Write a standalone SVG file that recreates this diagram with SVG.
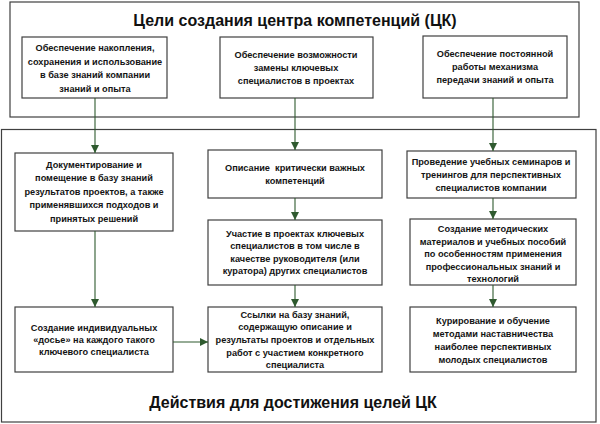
<svg xmlns="http://www.w3.org/2000/svg" width="600" height="424" viewBox="0 0 600 424">
<style>
.frame{fill:#fff;stroke:#404040;stroke-width:1.2}
.box{fill:#fff;stroke:#404040;stroke-width:1.2}
.t{font-family:"Liberation Sans",Arial,sans-serif;font-weight:bold;font-size:9.2px;fill:#141414;text-anchor:middle}
.title{font-family:"Liberation Sans",Arial,sans-serif;font-weight:bold;font-size:16px;fill:#111;text-anchor:middle}
.c{stroke:#2f5a2f;stroke-width:1.1;fill:none;marker-end:url(#ah)}
</style>
<defs>
<marker id="ah" markerUnits="userSpaceOnUse" markerWidth="8" markerHeight="8" viewBox="0 0 8 8" refX="8" refY="4" orient="auto">
<path d="M0,0 L8,4 L0,8 Z" fill="#2f5a2f"/>
</marker>
</defs>
<rect width="600" height="424" fill="#fff"/>
<g id="goals-frame">
<rect class="frame" x="10" y="2" width="569" height="115"/>
<text class="title" x="295" y="26">Цели создания центра компетенций (ЦК)</text>
</g>
<g id="actions-frame">
<rect class="frame" x="1.5" y="129.5" width="594.5" height="292.5"/>
<text class="title" x="293" y="408">Действия для достижения целей ЦК</text>
</g>
<g id="a1">
<rect class="box" x="22" y="37" width="145" height="61"/>
<text class="t" x="95" y="51">Обеспечение накопления,</text>
<text class="t" x="95" y="64.5">сохранения и использование</text>
<text class="t" x="95" y="78">в базе знаний компании</text>
<text class="t" x="95" y="91.5">знаний и опыта</text>
</g>
<g id="a2">
<rect class="box" x="220" y="37" width="153" height="61"/>
<text class="t" x="296" y="57.5">Обеспечение возможности</text>
<text class="t" x="296" y="70.5">замены ключевых</text>
<text class="t" x="296" y="83.5">специалистов в проектах</text>
</g>
<g id="a3">
<rect class="box" x="423" y="36" width="144" height="62"/>
<text class="t" x="495" y="57">Обеспечение постоянной</text>
<text class="t" x="495" y="70">работы механизма</text>
<text class="t" x="495" y="83">передачи знаний и опыта</text>
</g>
<g id="b1">
<rect class="box" x="15" y="153" width="158" height="78"/>
<text class="t" x="94" y="167.5">Документирование и</text>
<text class="t" x="94" y="181">помещение в базу знаний</text>
<text class="t" x="94" y="194.5">результатов проектов, а также</text>
<text class="t" x="94" y="208">применявшихся подходов и</text>
<text class="t" x="94" y="221.5">принятых решений</text>
</g>
<g id="b2">
<rect class="box" x="208" y="150" width="174" height="48"/>
<text class="t" x="295" y="171">Описание&#160; критически важных</text>
<text class="t" x="295" y="183.5">компетенций</text>
</g>
<g id="b3">
<rect class="box" x="208" y="220" width="174" height="65"/>
<text class="t" x="295" y="236.5">Участие в проектах ключевых</text>
<text class="t" x="295" y="249">специалистов в том числе в</text>
<text class="t" x="295" y="261.5">качестве руководителя (или</text>
<text class="t" x="295" y="274">куратора) других специалистов</text>
</g>
<g id="b4">
<rect class="box" x="15" y="307" width="158" height="65"/>
<text class="t" x="94" y="331">Создание индивидуальных</text>
<text class="t" x="94" y="343">«досье» на каждого такого</text>
<text class="t" x="94" y="355">ключевого специалиста</text>
</g>
<g id="b5">
<rect class="box" x="208" y="307" width="174" height="65"/>
<text class="t" x="295" y="317.5">Ссылки на базу знаний,</text>
<text class="t" x="295" y="330">содержащую описание и</text>
<text class="t" x="295" y="343">результаты проектов и отдельных</text>
<text class="t" x="295" y="355.5">работ с участием конкретного</text>
<text class="t" x="295" y="368">специалиста</text>
</g>
<g id="c1">
<rect class="box" x="407" y="151" width="169" height="47"/>
<text class="t" x="491" y="164.5">Проведение учебных семинаров и</text>
<text class="t" x="491" y="177.5">тренингов для перспективных</text>
<text class="t" x="491" y="190.5">специалистов компании</text>
</g>
<g id="c2">
<rect class="box" x="410" y="219" width="166" height="66"/>
<text class="t" x="493" y="232">Создание методических</text>
<text class="t" x="493" y="244.5">материалов и учебных пособий</text>
<text class="t" x="493" y="257">по особенностям применения</text>
<text class="t" x="493" y="269.5">профессиональных знаний и</text>
<text class="t" x="493" y="282">технологий</text>
</g>
<g id="c3">
<rect class="box" x="410" y="307" width="166" height="65"/>
<text class="t" x="493" y="323.5">Курирование и обучение</text>
<text class="t" x="493" y="336.5">методами наставничества</text>
<text class="t" x="493" y="349.5">наиболее перспективных</text>
<text class="t" x="493" y="362.5">молодых специалистов</text>
</g>
<g id="connectors">
<path class="c" d="M95,98 V153"/>
<path class="c" d="M295,98 V150"/>
<path class="c" d="M493,98 V151"/>
<path class="c" d="M295,198 V220"/>
<path class="c" d="M295,285 V307"/>
<path class="c" d="M95,231 V307"/>
<path class="c" d="M173,342 H208"/>
<path class="c" d="M493,198 V219"/>
<path class="c" d="M493,285 V307"/>
</g>
</svg>
